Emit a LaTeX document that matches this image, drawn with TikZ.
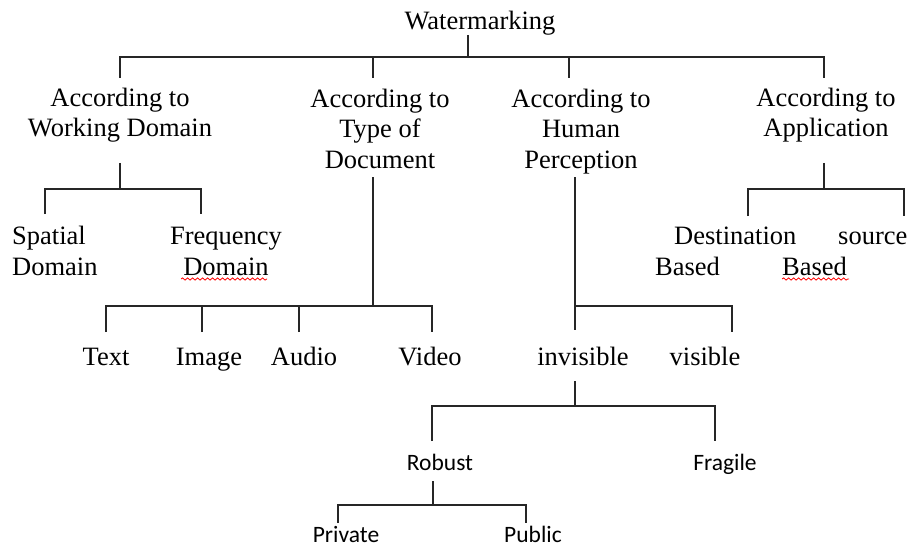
\documentclass[tikz,border=0pt]{standalone}
\usepackage{fontspec}
\setmainfont{Liberation Serif}
\newfontfamily\calfont{Carlito}
\usetikzlibrary{decorations.pathmorphing}
\begin{document}
\begin{tikzpicture}[x=1pt,y=-1pt,
  lbl/.style={inner sep=0pt, anchor=base, align=center, font=\fontsize{26.5}{30.5}\selectfont},
  lbll/.style={lbl, anchor=base west, align=left},
  slbl/.style={inner sep=0pt, anchor=base, font=\calfont\fontsize{23.5}{28}\selectfont},
  conn/.style={line width=1.6pt, draw=black!85},
  squig/.style={red, line width=0.8pt, decorate, decoration={snake, amplitude=1.1pt, segment length=5pt}}]
\useasboundingbox (0,0) rectangle (909,548);
% texts (multi-line nodes: base = baseline of last line)
\node[lbl] (wm) at (480,30) {Watermarking};
\node[lbl] (wd) at (120,137) {According to\\Working Domain};
\node[lbl] (td) at (380,168) {According to\\Type of\\Document};
\node[lbl] (hp) at (581,168) {According to\\Human\\Perception};
\node[lbl] (ap) at (826,137) {According to\\Application};
\node[lbll] (sd) at (12,275) {Spatial\\Domain};
\node[lbl] (fd) at (226,275) {Frequency\\Domain};
\node[lbll] (db) at (655,275) {\hspace*{19pt}Destination\\Based};
\node[lbll] (sb) at (782,275) {\hspace*{56pt}source\\Based};
\node[lbl] (tx) at (106,365) {Text};
\node[lbl] (im) at (209,365) {Image};
\node[lbl] (au) at (304,365) {Audio};
\node[lbl] (vi) at (430,365) {Video};
\node[lbl] (inv) at (583,365) {invisible};
\node[lbl] (vis) at (705,365) {visible};
\node[slbl] (rb) at (440,470) {Robust};
\node[slbl] (fr) at (725,470) {Fragile};
\node[slbl] (pr) at (346,542) {Private};
\node[slbl] (pu) at (533,542) {Public};
% squiggles
\draw[squig] (181,279) -- (267,279);
\draw[squig] (782,279) -- (849,279);
% junction coordinates
\coordinate (wmb) at (468,35);  \coordinate (b0) at (468,57);
\coordinate (c1) at (120,78);   \coordinate (c2) at (373,78);
\coordinate (c3) at (569,78);   \coordinate (c4) at (824,78);
\coordinate (wdb) at (120,163); \coordinate (b1) at (120,189);
\coordinate (sdt) at (45,214);  \coordinate (fdt) at (201,214);
\coordinate (tdb) at (373,177); \coordinate (b2) at (373,306);
\coordinate (txt) at (106,332); \coordinate (imt) at (202,332);
\coordinate (aut) at (299,332); \coordinate (vit) at (432,332);
\coordinate (hpb) at (575,177); \coordinate (b3) at (575,306);
\coordinate (invt) at (575,330); \coordinate (vist) at (732,332);
\coordinate (apb) at (824,163); \coordinate (b4) at (824,189);
\coordinate (dbt) at (748,216); \coordinate (sbt) at (904,216);
\coordinate (invb) at (575,381); \coordinate (b5) at (575,406);
\coordinate (rbt) at (432,441); \coordinate (frt) at (715,441);
\coordinate (rbb) at (433,481); \coordinate (b6) at (433,505);
\coordinate (prt) at (338,523); \coordinate (put) at (526,523);
% connectors
\draw[conn] (wmb) -- (b0);
\draw[conn] (c1) -- (c1 |- b0) -- (c4 |- b0) -- (c4);
\draw[conn] (c2) -- (c2 |- b0);
\draw[conn] (c3) -- (c3 |- b0);
\draw[conn] (wdb) -- (b1);
\draw[conn] (sdt) -- (sdt |- b1) -- (fdt |- b1) -- (fdt);
\draw[conn] (tdb) -- (b2);
\draw[conn] (txt) -- (txt |- b2) -- (vit |- b2) -- (vit);
\draw[conn] (imt) -- (imt |- b2);
\draw[conn] (aut) -- (aut |- b2);
\draw[conn] (hpb) -- (invt);
\draw[conn] (b3) -- (vist |- b3) -- (vist);
\draw[conn] (apb) -- (b4);
\draw[conn] (dbt) -- (dbt |- b4) -- (sbt |- b4) -- (sbt);
\draw[conn] (invb) -- (b5);
\draw[conn] (rbt) -- (rbt |- b5) -- (frt |- b5) -- (frt);
\draw[conn] (rbb) -- (b6);
\draw[conn] (prt) -- (prt |- b6) -- (put |- b6) -- (put);
\end{tikzpicture}
\end{document}
